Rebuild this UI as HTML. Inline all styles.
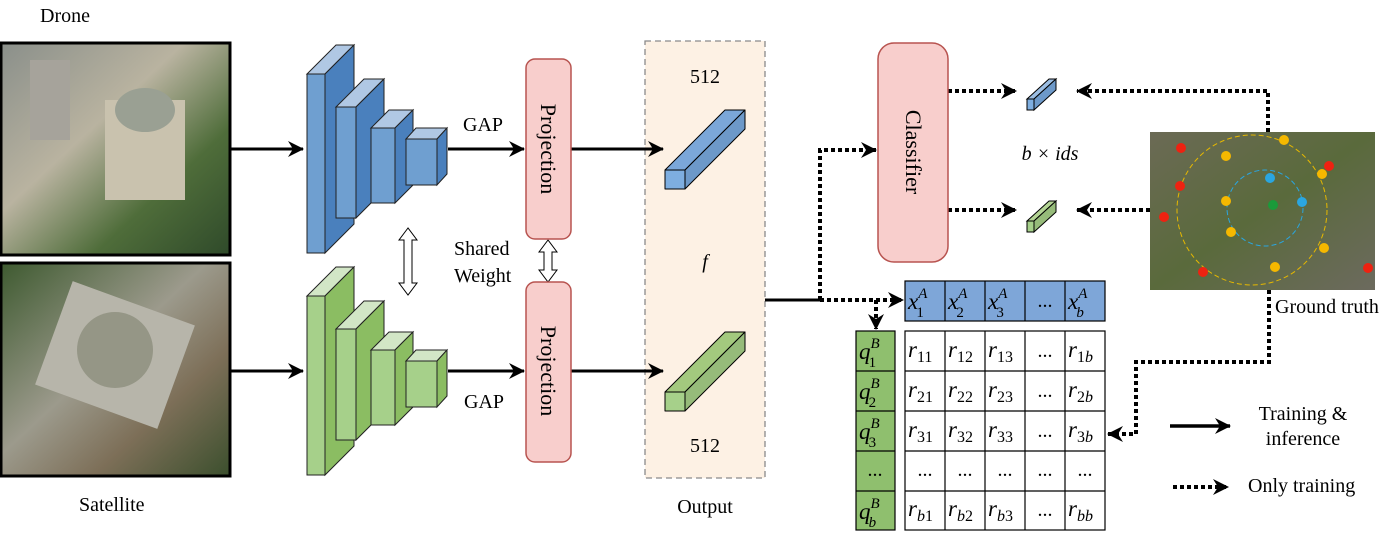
<!DOCTYPE html>
<html><head><meta charset="utf-8"><style>
html,body{margin:0;padding:0;background:#fff}
svg text{font-family:"Liberation Serif",serif;fill:#000}
</style></head><body>
<svg width="1395" height="548" viewBox="0 0 1395 548" xmlns="http://www.w3.org/2000/svg">
<defs>
<marker id="ah2" markerWidth="16" markerHeight="16" refX="15" refY="8" orient="auto" markerUnits="userSpaceOnUse"><path d="M0,0 L16,8 L0,16 L5,8 z" fill="#000"/></marker>
<linearGradient id="dr" x1="0" y1="0" x2="1" y2="1"><stop offset="0" stop-color="#8a8f8a"/><stop offset="0.4" stop-color="#b9b3a0"/><stop offset="0.7" stop-color="#4f6d3a"/><stop offset="1" stop-color="#2f4a2a"/></linearGradient>
<linearGradient id="st" x1="0" y1="0" x2="1" y2="1"><stop offset="0" stop-color="#3e5a30"/><stop offset="0.45" stop-color="#9c9a8c"/><stop offset="0.7" stop-color="#7d6f58"/><stop offset="1" stop-color="#3b4f2d"/></linearGradient>
<linearGradient id="mp" x1="0" y1="0" x2="1" y2="1"><stop offset="0" stop-color="#6b6a55"/><stop offset="0.5" stop-color="#5a6a3c"/><stop offset="1" stop-color="#6c6a5e"/></linearGradient>
</defs>
<text x="40" y="22" font-size="20">Drone</text>
<rect x="1" y="43" width="229" height="212" fill="url(#dr)" stroke="#000" stroke-width="3"/>
<rect x="105" y="100" width="80" height="100" fill="#c9c2ae"/><ellipse cx="145" cy="110" rx="30" ry="22" fill="#9aa093"/>
<rect x="30" y="60" width="40" height="80" fill="#a6a39b"/>
<rect x="1" y="263" width="229" height="213" fill="url(#st)" stroke="#000" stroke-width="3"/>
<rect x="50" y="300" width="130" height="110" fill="#b7b5aa" transform="rotate(20 115 355)"/><circle cx="115" cy="350" r="38" fill="#959686"/>
<text x="79" y="511" font-size="20">Satellite</text>
<rect x="645" y="41" width="120" height="437" fill="#fdf1e4" stroke="#8a8a8a" stroke-dasharray="6,4" stroke-width="1.3"/>
<g stroke="#000" stroke-width="3" fill="none">
<line x1="230" y1="149" x2="303" y2="149" marker-end="url(#ah2)"/>
<line x1="448" y1="149" x2="524" y2="149" marker-end="url(#ah2)"/>
<line x1="571" y1="149" x2="663" y2="149" marker-end="url(#ah2)"/>
<line x1="230" y1="371" x2="303" y2="371" marker-end="url(#ah2)"/>
<line x1="448" y1="371" x2="524" y2="371" marker-end="url(#ah2)"/>
<line x1="571" y1="371" x2="663" y2="371" marker-end="url(#ah2)"/>
</g>
<g stroke="#222" stroke-width="1">
<g>
<polygon points="307,74 336,45 354,45 325,74" fill="#b0c8e4"/><polygon points="325,74 354,45 354,224 325,253" fill="#4a80bd"/><rect x="307" y="74" width="18" height="179" fill="#6f9fd0"/>
<polygon points="336,107 364,79 384,79 356,107" fill="#b0c8e4"/><polygon points="356,107 384,79 384,190 356,218" fill="#4a80bd"/><rect x="336" y="107" width="20" height="111" fill="#6f9fd0"/>
<polygon points="371,128 389,110 413,110 395,128" fill="#b0c8e4"/><polygon points="395,128 413,110 413,185 395,203" fill="#4a80bd"/><rect x="371" y="128" width="24" height="75" fill="#6f9fd0"/>
<polygon points="406,139 416,128 447,128 437,139" fill="#b0c8e4"/><polygon points="437,139 447,128 447,174 437,185" fill="#4a80bd"/><rect x="406" y="139" width="31" height="46" fill="#6f9fd0"/>
</g>
<g transform="translate(0,222)">
<polygon points="307,74 336,45 354,45 325,74" fill="#d2e6c6"/><polygon points="325,74 354,45 354,224 325,253" fill="#8bbd62"/><rect x="307" y="74" width="18" height="179" fill="#a6d08a"/>
<polygon points="336,107 364,79 384,79 356,107" fill="#d2e6c6"/><polygon points="356,107 384,79 384,190 356,218" fill="#8bbd62"/><rect x="336" y="107" width="20" height="111" fill="#a6d08a"/>
<polygon points="371,128 389,110 413,110 395,128" fill="#d2e6c6"/><polygon points="395,128 413,110 413,185 395,203" fill="#8bbd62"/><rect x="371" y="128" width="24" height="75" fill="#a6d08a"/>
<polygon points="406,139 416,128 447,128 437,139" fill="#d2e6c6"/><polygon points="437,139 447,128 447,174 437,185" fill="#8bbd62"/><rect x="406" y="139" width="31" height="46" fill="#a6d08a"/>
</g>
</g>
<polygon points="408,228 399,240 404,240 404,283 399,283 408,295 417,283 412,283 412,240 417,240" fill="#fff" stroke="#000"/>
<polygon points="548,240 539,252 544,252 544,270 539,270 548,282 557,270 552,270 552,252 557,252" fill="#fff" stroke="#000"/>
<text x="463" y="131" font-size="20">GAP</text>
<text x="464" y="408" font-size="20">GAP</text>
<text x="454" y="255" font-size="20">Shared</text>
<text x="454" y="282" font-size="20">Weight</text>
<rect x="526" y="59" width="45" height="180" rx="9" fill="#f8cecc" stroke="#b85450" stroke-width="1.5"/>
<rect x="526" y="282" width="45" height="180" rx="9" fill="#f8cecc" stroke="#b85450" stroke-width="1.5"/>
<text font-size="22" transform="translate(541,149) rotate(90)" text-anchor="middle">Projection</text>
<text font-size="22" transform="translate(541,371) rotate(90)" text-anchor="middle">Projection</text>
<text x="705" y="83" font-size="20" text-anchor="middle">512</text>
<text x="705" y="452" font-size="20" text-anchor="middle">512</text>
<text x="705" y="268" font-size="20" font-style="italic" text-anchor="middle">f</text>
<text x="705" y="513" font-size="20" text-anchor="middle">Output</text>
<g stroke="#000" stroke-width="1" stroke-linejoin="round">
<polygon points="665,170 725,110 745,110 685,170" fill="#7ba7d9"/><polygon points="685,170 745,110 745,129 685,189" fill="#6d99c9"/><rect x="665" y="170" width="20" height="19" fill="#7eaee0"/>
<polygon points="665,392 725,332 745,332 685,392" fill="#a3c97e"/><polygon points="685,392 745,332 745,351 685,411" fill="#96bb7a"/><rect x="665" y="392" width="20" height="19" fill="#a6d08a"/>
</g>
<g stroke="#000" stroke-width="4" stroke-dasharray="4,3" fill="none">
<line x1="765" y1="300" x2="820" y2="300" stroke-dasharray="none" stroke-width="3"/>
<polyline points="820,300 820,150 876,150" marker-end="url(#ah2)"/>
<line x1="820" y1="300" x2="903" y2="300" marker-end="url(#ah2)"/>
<line x1="876" y1="300" x2="876" y2="329" marker-end="url(#ah2)"/>
<line x1="948" y1="91" x2="1016" y2="91" marker-end="url(#ah2)"/>
<line x1="948" y1="210" x2="1016" y2="210" marker-end="url(#ah2)"/>
<polyline points="1268,132 1268,91 1077,91" marker-end="url(#ah2)"/>
<line x1="1150" y1="210" x2="1077" y2="210" marker-end="url(#ah2)"/>
<polyline points="1269,290 1269,362 1136,362 1136,434 1108,434" marker-end="url(#ah2)"/>
<line x1="1173" y1="487" x2="1228" y2="487" marker-end="url(#ah2)"/>
</g>
<line x1="1170" y1="426" x2="1230" y2="426" stroke="#000" stroke-width="3.5" marker-end="url(#ah2)"/>
<text x="1303" y="420" font-size="20" text-anchor="middle">Training &amp;</text>
<text x="1303" y="445" font-size="20" text-anchor="middle">inference</text>
<text x="1248" y="492" font-size="20">Only training</text>
<rect x="878" y="43" width="70" height="219" rx="16" fill="#f8cecc" stroke="#b85450" stroke-width="1.5"/>
<text font-size="22" transform="translate(906,152) rotate(90)" text-anchor="middle">Classifier</text>
<text x="1050" y="160" font-size="20" font-style="italic" text-anchor="middle">b × ids</text>
<g stroke="#000" stroke-width="1">
<polygon points="1027,99 1049,79 1056,79 1034,99" fill="#9bbde2"/><polygon points="1034,99 1056,79 1056,90 1034,110" fill="#6d99c9"/><rect x="1027" y="99" width="7" height="11" fill="#7eaee0"/>
<polygon points="1027,221 1049,201 1056,201 1034,221" fill="#b3d494"/><polygon points="1034,221 1056,201 1056,212 1034,232" fill="#96bb7a"/><rect x="1027" y="221" width="7" height="11" fill="#a6d08a"/>
</g>
<rect x="1150" y="132" width="225" height="158" fill="url(#mp)"/>
<ellipse cx="1252" cy="210" rx="75" ry="75" fill="none" stroke="#e6b800" stroke-dasharray="5,3"/>
<ellipse cx="1265" cy="208" rx="38" ry="38" fill="none" stroke="#2aa6e0" stroke-dasharray="5,3"/>
<g>
<circle cx="1181" cy="148" r="5" fill="#e21"/><circle cx="1226" cy="156" r="5" fill="#f5b800"/><circle cx="1284" cy="140" r="5" fill="#f5b800"/><circle cx="1329" cy="166" r="5" fill="#e21"/><circle cx="1270" cy="178" r="5" fill="#2aa6e0"/><circle cx="1180" cy="186" r="5" fill="#e21"/><circle cx="1322" cy="174" r="5" fill="#f5b800"/><circle cx="1226" cy="201" r="5" fill="#f5b800"/><circle cx="1273" cy="205" r="5" fill="#1a9a3a"/><circle cx="1302" cy="202" r="5" fill="#2aa6e0"/><circle cx="1164" cy="217" r="5" fill="#e21"/><circle cx="1231" cy="232" r="5" fill="#f5b800"/><circle cx="1324" cy="248" r="5" fill="#f5b800"/><circle cx="1203" cy="272" r="5" fill="#e21"/><circle cx="1275" cy="267" r="5" fill="#f5b800"/><circle cx="1368" cy="268" r="5" fill="#e21"/>
</g>
<text x="1275" y="313" font-size="20">Ground truth</text>
<g stroke="#000" stroke-width="1.2">
<rect x="905" y="281" width="200" height="40" fill="#7ea6d8"/>
<line x1="945" y1="281" x2="945" y2="321"/><line x1="985" y1="281" x2="985" y2="321"/><line x1="1025" y1="281" x2="1025" y2="321"/><line x1="1065" y1="281" x2="1065" y2="321"/>
<rect x="856" y="331" width="39" height="199" fill="#8fbf6e"/>
<line x1="856" y1="371" x2="895" y2="371"/><line x1="856" y1="411" x2="895" y2="411"/><line x1="856" y1="451" x2="895" y2="451"/><line x1="856" y1="491" x2="895" y2="491"/>
<rect x="905" y="331" width="200" height="199" fill="#fff"/>
<line x1="945" y1="331" x2="945" y2="530"/><line x1="985" y1="331" x2="985" y2="530"/><line x1="1025" y1="331" x2="1025" y2="530"/><line x1="1065" y1="331" x2="1065" y2="530"/>
<line x1="905" y1="371" x2="1105" y2="371"/><line x1="905" y1="411" x2="1105" y2="411"/><line x1="905" y1="451" x2="1105" y2="451"/><line x1="905" y1="491" x2="1105" y2="491"/>
</g>
<g font-size="23" font-style="italic">
<text x="908" y="309">x<tspan font-size="15" dy="-11">A</tspan><tspan font-size="15" dx="-11" dy="19" font-style="normal">1</tspan></text>
<text x="948" y="309">x<tspan font-size="15" dy="-11">A</tspan><tspan font-size="15" dx="-11" dy="19" font-style="normal">2</tspan></text>
<text x="988" y="309">x<tspan font-size="15" dy="-11">A</tspan><tspan font-size="15" dx="-11" dy="19" font-style="normal">3</tspan></text>
<text x="1068" y="309">x<tspan font-size="15" dy="-11">A</tspan><tspan font-size="15" dx="-11" dy="19">b</tspan></text>
<text x="859" y="359">q<tspan font-size="15" dy="-11">B</tspan><tspan font-size="15" dx="-11" dy="19" font-style="normal">1</tspan></text>
<text x="859" y="399">q<tspan font-size="15" dy="-11">B</tspan><tspan font-size="15" dx="-11" dy="19" font-style="normal">2</tspan></text>
<text x="859" y="439">q<tspan font-size="15" dy="-11">B</tspan><tspan font-size="15" dx="-11" dy="19" font-style="normal">3</tspan></text>
<text x="859" y="519">q<tspan font-size="15" dy="-11">B</tspan><tspan font-size="15" dx="-11" dy="19">b</tspan></text>
</g>
<g font-size="20" text-anchor="middle">
<text x="1045" y="307">...</text><text x="875" y="476">...</text>
<text x="1045" y="357">...</text><text x="1045" y="397">...</text><text x="1045" y="437">...</text><text x="1045" y="516">...</text>
<text x="925" y="476">...</text><text x="965" y="476">...</text><text x="1005" y="476">...</text><text x="1045" y="476">...</text><text x="1085" y="476">...</text>
</g>
<g font-size="23" font-style="italic">
<text x="908" y="357">r<tspan font-size="16" font-style="normal" dy="5">11</tspan></text><text x="948" y="357">r<tspan font-size="16" font-style="normal" dy="5">12</tspan></text><text x="988" y="357">r<tspan font-size="16" font-style="normal" dy="5">13</tspan></text><text x="1068" y="357">r<tspan font-size="16" font-style="normal" dy="5">1</tspan><tspan font-size="16">b</tspan></text>
<text x="908" y="397">r<tspan font-size="16" font-style="normal" dy="5">21</tspan></text><text x="948" y="397">r<tspan font-size="16" font-style="normal" dy="5">22</tspan></text><text x="988" y="397">r<tspan font-size="16" font-style="normal" dy="5">23</tspan></text><text x="1068" y="397">r<tspan font-size="16" font-style="normal" dy="5">2</tspan><tspan font-size="16">b</tspan></text>
<text x="908" y="437">r<tspan font-size="16" font-style="normal" dy="5">31</tspan></text><text x="948" y="437">r<tspan font-size="16" font-style="normal" dy="5">32</tspan></text><text x="988" y="437">r<tspan font-size="16" font-style="normal" dy="5">33</tspan></text><text x="1068" y="437">r<tspan font-size="16" font-style="normal" dy="5">3</tspan><tspan font-size="16">b</tspan></text>
<text x="908" y="516">r<tspan font-size="16" dy="5">b</tspan><tspan font-size="16" font-style="normal">1</tspan></text><text x="948" y="516">r<tspan font-size="16" dy="5">b</tspan><tspan font-size="16" font-style="normal">2</tspan></text><text x="988" y="516">r<tspan font-size="16" dy="5">b</tspan><tspan font-size="16" font-style="normal">3</tspan></text><text x="1068" y="516">r<tspan font-size="16" dy="5">bb</tspan></text>
</g>
</svg>
</body></html>
